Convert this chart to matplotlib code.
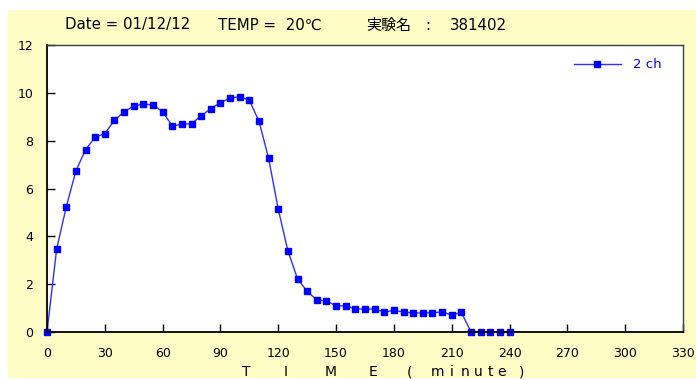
import numpy as np
import matplotlib.pyplot as plt
from matplotlib.patches import Rectangle

# sampled every 5 minutes, channel 2
time = np.arange(0, 245, 5)
ch2 = [0.0, 3.47, 5.23, 6.74, 7.62, 8.15, 8.29, 8.86, 9.20, 9.45,
       9.53, 9.49, 9.21, 8.62, 8.68, 8.71, 9.04, 9.34, 9.59, 9.78,
       9.84, 9.69, 8.81, 7.26, 5.13, 3.39, 2.22, 1.70, 1.34, 1.30,
       1.09, 1.10, 0.96, 0.96, 0.96, 0.84, 0.90, 0.84, 0.79, 0.80,
       0.80, 0.84, 0.71, 0.82, 0.0, 0.0, 0.0, 0.0, 0.0]

xticks = np.arange(0, 331, 30)
yticks = np.arange(0, 13, 2)

fig = plt.figure(figsize=(6.96, 3.80), dpi=100)
fig.patch.set_facecolor('white')
bg = Rectangle((8 / 696, 2 / 380), 1 - 8 / 696, 368 / 380,
               transform=fig.transFigure, facecolor='#FFFDC6',
               edgecolor='none', zorder=-10)
fig.add_artist(bg)

ax = fig.add_axes([47 / 696, 48 / 380, 636 / 696, 287 / 380])
ax.set_zorder(1)
ax.set_facecolor('white')
ax.plot(time, ch2, '-', color='#3030FF', lw=1, marker='s', ms=4.6,
        mfc='#0000FF', mec='#0000FF', label='2 ch', clip_on=False)

ax.set_xlim(0, 330)
ax.set_ylim(0, 12)
ax.set_xticks(xticks)
ax.set_yticks(yticks)
ax.tick_params(direction='in', length=6, width=1, labelsize=9, colors='black')
ax.tick_params(axis='x', pad=11)
ax.tick_params(axis='y', pad=10)
for s in ['left', 'bottom']:
    ax.spines[s].set_linewidth(1.3)
    ax.spines[s].set_color('black')
for s in ['top', 'right']:
    ax.spines[s].set_linewidth(1)
    ax.spines[s].set_color('#404040')

# spaced-out axis title, letter by letter
label_chars = ['T', 'I', 'M', 'E', '(', 'm', 'i', 'n', 'u', 't', 'e', ')']
label_px = [246, 286, 331, 373, 410, 437, 452, 465, 478, 490, 502, 522]
for ch, px in zip(label_chars, label_px):
    fig.text(px / 696, 1 - 372 / 380, ch, fontsize=10, ha='center', va='center')

leg = ax.legend(loc='upper right', frameon=False, fontsize=9.5, handlelength=3.6,
                handletextpad=0.9, bbox_to_anchor=(0.985, 0.995))
for t in leg.get_texts():
    t.set_color('#0000FF')

fam = ['DejaVu Sans', 'Noto Sans CJK JP']
fig.text(65 / 696, 1 - 25 / 380, 'Date = 01/12/12', fontsize=10.8, va='center', family=fam)
fig.text(218 / 696, 1 - 25 / 380, 'TEMP =  20℃', fontsize=10.8, va='center', family=fam)
fig.text(366 / 696, 1 - 25 / 380, '実験名', fontsize=10.8, va='center', family=fam)
fig.text(428 / 696, 1 - 25 / 380, ':', fontsize=10.8, ha='center', va='center', family=fam)
fig.text(450 / 696, 1 - 25 / 380, '381402', fontsize=10.8, va='center', family=fam)

plt.savefig('out.png', dpi=100)
